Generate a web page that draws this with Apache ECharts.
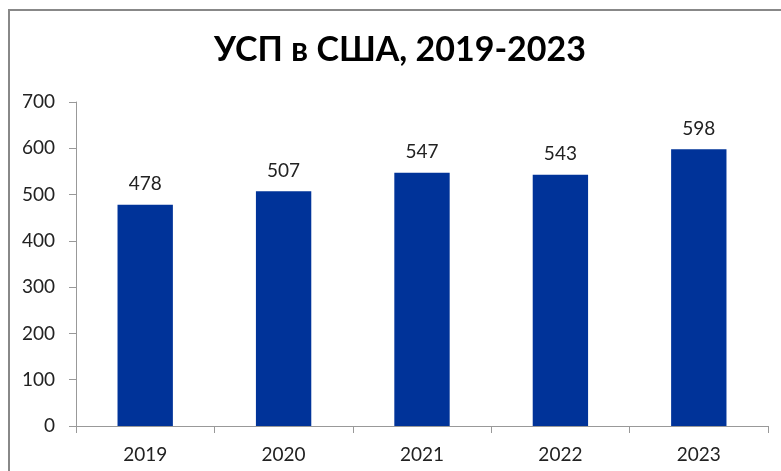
<!DOCTYPE html>
<html>
<head>
<meta charset="utf-8">
<script src="https://cdn.jsdelivr.net/npm/echarts@6/dist/echarts.min.js"></script>
<style>
  html, body { margin: 0; padding: 0; background: #fff; }
  #chart { width: 781px; height: 471px; }
</style>
</head>
<body>
<div id="chart"></div>
<script>
const years = ['2019', '2020', '2021', '2022', '2023'];
const values = [478, 507, 547, 543, 598];
const yTicks = [0, 100, 200, 300, 400, 500, 600, 700];

const font = 'Lato, "Open Sans", sans-serif';
const chart = echarts.init(document.getElementById('chart'));

chart.setOption({
  backgroundColor: '#fff',
  animation: false,
  title: {
    text: 'УСП в США, 2019-2023',
    left: 209,
    top: 28,
    textStyle: { fontFamily: font, fontSize: 34, fontWeight: 'bold', color: '#000' }
  },
  graphic: [{
    type: 'rect',
    shape: { x: 9, y: 10, width: 800, height: 500 },
    style: { fill: 'none', stroke: '#888', lineWidth: 2 },
    silent: true
  }],
  grid: { left: 76, right: 13, top: 102, bottom: 45 },
  xAxis: {
    type: 'category',
    data: years,
    axisLine: { lineStyle: { color: '#999' } },
    axisTick: { show: true, length: 7, lineStyle: { color: '#999' } },
    axisLabel: { fontFamily: font, fontSize: 19, color: '#222', margin: 19 }
  },
  yAxis: {
    type: 'value',
    min: yTicks[0],
    max: yTicks[yTicks.length - 1],
    interval: 100,
    axisLine: { show: true, lineStyle: { color: '#999' } },
    axisTick: { show: true, length: 7, lineStyle: { color: '#999' } },
    splitLine: { show: false },
    axisLabel: { fontFamily: font, fontSize: 19, color: '#222', margin: 21 }
  },
  series: [{
    type: 'bar',
    data: values,
    barWidth: '40%',
    itemStyle: { color: '#003399' },
    label: {
      show: true,
      position: 'top',
      distance: 11,
      fontFamily: font,
      fontSize: 19,
      color: '#222'
    }
  }]
});
</script>
</body>
</html>
